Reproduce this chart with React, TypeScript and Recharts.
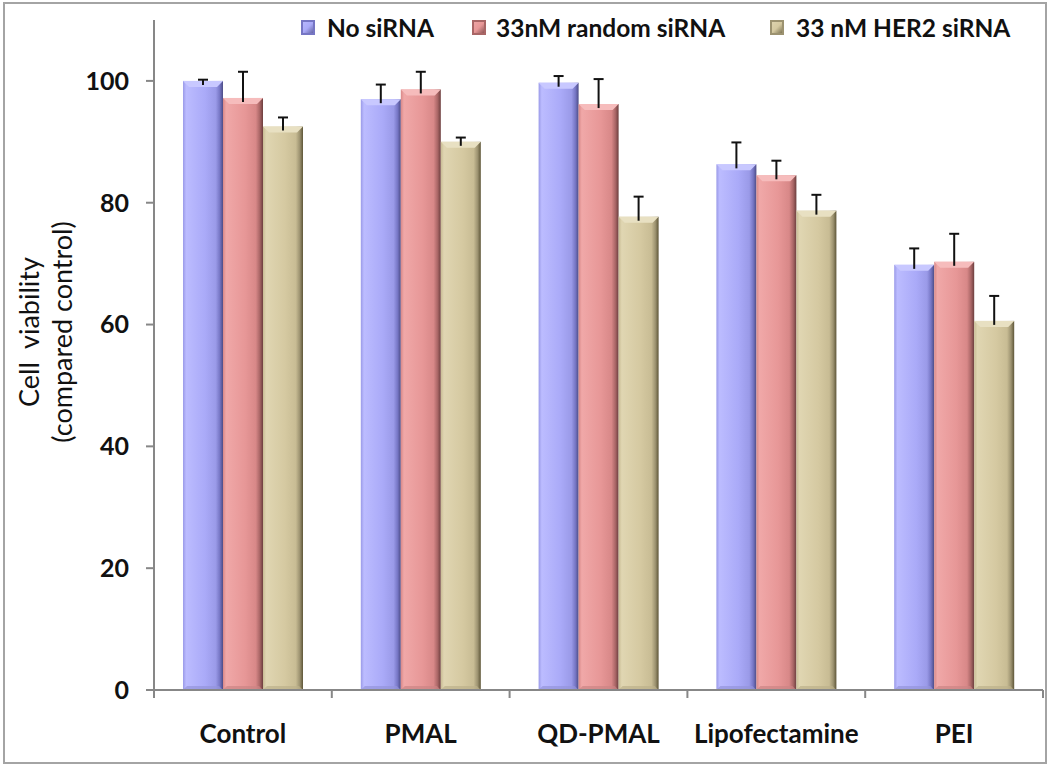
import React from 'react';
import { BarChart, Bar, XAxis, YAxis } from 'recharts';

const categories = ['Control', 'PMAL', 'QD-PMAL', 'Lipofectamine', 'PEI'];
const noSiRNA = [100, 97.0, 99.7, 86.3, 69.8];
const randomSiRNA = [97.2, 98.6, 96.2, 84.5, 70.3];
const her2SiRNA = [92.5, 90.0, 77.7, 78.7, 60.6];
const noSiRNAErr = [0.2, 2.4, 1.1, 3.6, 2.7];
const randomSiRNAErr = [4.3, 2.9, 4.1, 2.4, 4.6];
const her2SiRNAErr = [1.5, 0.7, 3.3, 2.6, 4.1];
const yTicks = [0, 20, 40, 60, 80, 100];
const seriesNames = ['No siRNA', '33nM random siRNA', '33 nM HER2 siRNA'];
const legendItemWidths = [171, 298, 260];

const data = categories.map((c, i) => ({
  name: c,
  a: noSiRNA[i],
  b: randomSiRNA[i],
  c: her2SiRNA[i],
  ae: noSiRNAErr[i],
  be: randomSiRNAErr[i],
  ce: her2SiRNAErr[i],
}));

type Pal = { id: string; base: string; light: string; edge: string; dark: string; darkest: string; top: string; bottom: string };
const palettes: Pal[] = [
  { id: 'pa', base: '#aaaaf8', light: '#bcbcff', edge: '#9a9ae8', dark: '#7676c4', darkest: '#4c4c86', top: '#c8c8ff', bottom: '#9494dc' },
  { id: 'pb', base: '#e79797', light: '#f0a8a8', edge: '#d88888', dark: '#a96666', darkest: '#6c3e3e', top: '#f6bcbc', bottom: '#cc8484' },
  { id: 'pc', base: '#d5c9a1', light: '#e0d6b2', edge: '#c8bc94', dark: '#9c9270', darkest: '#5e5638', top: '#e8e0c2', bottom: '#bcb08a' },
];

const FONT = 'Lato, "Open Sans", sans-serif';

const makeShape = (pal: Pal, key: string, errKey: string) => (props: any) => {
  const { x, y, width, height, payload } = props;
  if (!payload || !height) return null;
  const v = payload[key];
  const err = payload[errKey];
  const ratio = height / v;
  const b = 6;
  const cx = x + width / 2;
  const ey = y - err * ratio;
  return (
    <g>
      <rect x={x} y={y} width={width} height={height} fill={`url(#g-${pal.id})`} />
      <polygon points={`${x},${y} ${x + width},${y} ${x + width - b},${y + b} ${x + b},${y + b}`} fill={pal.top} />
      <polygon points={`${x},${y + height} ${x + width},${y + height} ${x + width - 4},${y + height - 4} ${x + 4},${y + height - 4}`} fill={pal.bottom} opacity={0.7} />
      <line x1={cx} y1={y + 4} x2={cx} y2={ey} stroke="#111" strokeWidth={2} />
      <line x1={cx - 5} y1={ey} x2={cx + 5} y2={ey} stroke="#111" strokeWidth={2} />
    </g>
  );
};

const XTick = (props: any) => {
  const { x, y, payload, index, visibleTicksCount } = props;
  const half = payload && payload.offset ? payload.offset : 0;
  const last = index === (visibleTicksCount ?? categories.length) - 1;
  return (
    <g>
      <line x1={x - half} y1={y} x2={x - half} y2={y + 8} stroke="#878787" strokeWidth={2} />
      {last && <line x1={x + half} y1={y} x2={x + half} y2={y + 8} stroke="#878787" strokeWidth={2} />}
      <text x={x} y={y + 43} textAnchor="middle" dominantBaseline="central" fontFamily={FONT} fontWeight={700} fontSize={26} fill="#111">
        {payload.value}
      </text>
    </g>
  );
};

const YLabel = () => (
  <g>
    <text x={28} y={332} transform="rotate(-90 28 332)" textAnchor="middle" dominantBaseline="central" fontFamily={FONT} fontSize={27} fill="#111" style={{ whiteSpace: 'pre' }}>
      {'Cell  viability'}
    </text>
    <text x={61} y={332} transform="rotate(-90 61 332)" textAnchor="middle" dominantBaseline="central" fontFamily={FONT} fontSize={27} fill="#111">
      (compared control)
    </text>
  </g>
);

const LegendBox = () => (
  <div style={{ position: 'absolute', left: 301, top: 13, display: 'flex', alignItems: 'center', fontFamily: FONT, fontWeight: 700, fontSize: 24.5, color: '#111', whiteSpace: 'nowrap' }}>
    {seriesNames.map((n, i) => {
      const p = palettes[i];
      return (
        <div key={n} style={{ display: 'flex', alignItems: 'center', width: legendItemWidths[i] }}>
          <div style={{ width: 14, height: 15, marginRight: i === 1 ? 10 : 12, background: `linear-gradient(135deg, ${p.light} 0%, ${p.base} 50%, ${p.darkest} 100%)`, boxShadow: `inset 0 0 0 2px ${p.dark}` }} />
          <span>{n}</span>
        </div>
      );
    })}
  </div>
);

export default function App() {
  return (
    <div style={{ position: 'absolute', left: 0, top: 0, width: 1050, height: 768, background: '#fff' }}>
      <div style={{ position: 'absolute', left: 3, top: 2, width: 1040, height: 758, border: '2px solid #a4a4a4' }} />
      <div style={{ position: 'absolute', left: 0, top: 0 }}>
        <BarChart width={1050} height={768} data={data} margin={{ top: 20, right: 7, bottom: 0, left: 0 }} barSize={40} barGap={0}>
          <defs>
            {palettes.map((p) => (
              <linearGradient key={p.id} id={`g-${p.id}`} x1="0" y1="0" x2="1" y2="0">
                <stop offset="0%" stopColor={p.edge} />
                <stop offset="8%" stopColor={p.light} />
                <stop offset="55%" stopColor={p.base} />
                <stop offset="82%" stopColor={p.edge} />
                <stop offset="92%" stopColor={p.dark} />
                <stop offset="100%" stopColor={p.darkest} />
              </linearGradient>
            ))}
          </defs>
          <XAxis dataKey="name" axisLine={{ stroke: '#878787', strokeWidth: 2 }} tickLine={false} tickSize={0} tickMargin={0} tick={<XTick />} interval={0} height={78} />
          <YAxis
            domain={[0, 110]}
            ticks={yTicks}
            axisLine={{ stroke: '#878787', strokeWidth: 2 }}
            tickLine={{ stroke: '#878787', strokeWidth: 2 }}
            tickSize={8}
            tickMargin={17}
            width={154}
            tick={{ fontFamily: FONT, fontWeight: 700, fontSize: 25, fill: '#111' }}
            label={<YLabel />}
          />
          <Bar dataKey="a" name={seriesNames[0]} isAnimationActive={false} shape={makeShape(palettes[0], 'a', 'ae')} />
          <Bar dataKey="b" name={seriesNames[1]} isAnimationActive={false} shape={makeShape(palettes[1], 'b', 'be')} />
          <Bar dataKey="c" name={seriesNames[2]} isAnimationActive={false} shape={makeShape(palettes[2], 'c', 'ce')} />
        </BarChart>
      </div>
      <LegendBox />
    </div>
  );
}
